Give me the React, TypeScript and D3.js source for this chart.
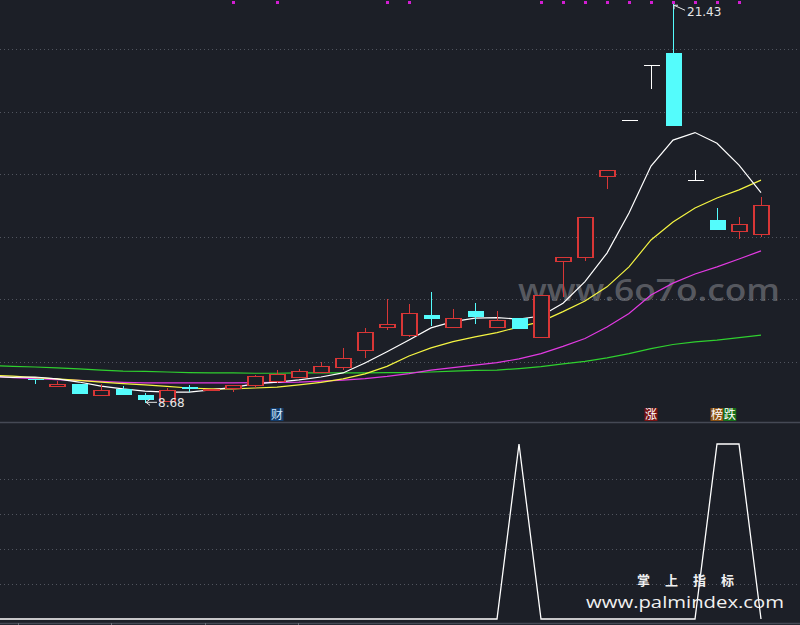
import { useEffect, useRef } from "react"
import * as d3 from "d3"

// candles, index 1..34
const candleIdx = d3.range(1, 35)
const opens = [9.47, 9.24, 9.29, 8.96, 9.15, 8.94, 8.76, 9.2, 9.13, 9.18, 9.25, 9.39, 9.53, 9.69, 9.83, 10.38, 11.12, 10.86, 11.5, 11.12, 11.63, 11.12, 11.4, 10.81, 13.22, 13.36, 15.93, 17.73, 19.48, 19.88, 15.81, 14.54, 14.19, 14.08]
const closes = [9.46, 9.3, 8.98, 9.11, 8.96, 8.8, 9.12, 9.19, 9.14, 9.25, 9.54, 9.62, 9.71, 9.87, 10.12, 10.95, 11.2, 11.56, 11.38, 11.4, 11.45, 11.34, 11.04, 12.14, 13.34, 14.64, 16.12, 17.73, 19.48, 17.55, 15.81, 14.22, 14.4, 15.02]
const highs = [9.47, 9.39, 9.29, 9.3, 9.23, 9.02, 9.18, 9.27, 9.14, 9.25, 9.59, 9.73, 9.78, 9.99, 10.44, 11.1, 12.01, 11.85, 12.25, 11.69, 11.88, 11.63, 11.4, 12.14, 13.34, 14.64, 16.12, 17.73, 19.48, 21.43, 16.13, 14.91, 14.63, 15.28]
const lows = [9.3, 9.24, 8.98, 8.96, 8.96, 8.68, 8.75, 9.04, 9.07, 9.03, 9.18, 9.34, 9.53, 9.69, 9.74, 10.14, 11.02, 10.81, 11.16, 11.12, 11.2, 11.12, 11.04, 10.81, 12.09, 13.22, 15.52, 17.73, 18.71, 17.55, 15.81, 14.22, 13.94, 14.0]

// moving averages, index -1..34
const maIdx = d3.range(-1, 35)
const ma5 = [9.53, 9.51, 9.52, 9.46, 9.36, 9.23, 9.14, 9.07, 9.04, 9.04, 9.11, 9.19, 9.3, 9.36, 9.43, 9.52, 9.65, 9.97, 10.33, 10.7, 11.09, 11.29, 11.4, 11.42, 11.37, 11.47, 11.88, 12.57, 13.48, 14.76, 16.26, 17.09, 17.33, 16.99, 16.29, 15.41]
const ma10 = [9.58, 9.55, 9.5, 9.46, 9.41, 9.36, 9.31, 9.27, 9.22, 9.17, 9.14, 9.14, 9.17, 9.2, 9.27, 9.35, 9.46, 9.62, 9.86, 10.19, 10.45, 10.65, 10.8, 10.94, 11.12, 11.29, 11.61, 11.95, 12.4, 13.04, 13.9, 14.47, 14.92, 15.24, 15.5, 15.81]
const ma20 = [9.55, 9.5, 9.47, 9.44, 9.41, 9.38, 9.35, 9.33, 9.33, 9.33, 9.33, 9.33, 9.34, 9.35, 9.36, 9.39, 9.42, 9.47, 9.54, 9.63, 9.74, 9.82, 9.9, 9.98, 10.1, 10.27, 10.5, 10.75, 11.12, 11.55, 12.14, 12.52, 12.81, 13.04, 13.29, 13.55]
const ma60 = [9.89, 9.86, 9.84, 9.81, 9.78, 9.74, 9.71, 9.7, 9.68, 9.66, 9.65, 9.65, 9.64, 9.64, 9.65, 9.65, 9.65, 9.65, 9.66, 9.66, 9.68, 9.71, 9.73, 9.74, 9.79, 9.85, 9.94, 10.02, 10.13, 10.27, 10.43, 10.56, 10.64, 10.7, 10.78, 10.86]

// lower panel signal, index -1..34
const signal = [0, 0, 0, 0, 0, 0, 0, 0, 0, 0, 0, 0, 0, 0, 0, 0, 0, 0, 0, 0, 0, 0, 0, 0, 1, 0, 0, 0, 0, 0, 0, 0, 0, 1, 1, 0]

const dotIdx = [10, 12, 17, 18, 24, 25, 26, 27, 28, 29, 30, 31, 32, 33]
const priceTicks = [10, 12, 14, 16, 18, 20]
const signalTicks = [0.2, 0.4, 0.6, 0.8]
const axisTickIdx = [0.23, 4.45, 8.73, 12.95]

const tags = [
  { i: 12, text: "财", bg: "#123c6c", fg: "#cfe6ff" },
  { i: 29, text: "涨", bg: "#7a1212", fg: "#ffffff" },
  { i: 32, text: "榜", bg: "#8c5212", fg: "#ffffff" },
  { i: 32.58, text: "跌", bg: "#16701a", fg: "#ffffff" },
]

const BG = "#1c1f27"
const RED = "#d83636"
const CYAN = "#54fcfc"

export default function App() {
  const svgRef = useRef<SVGSVGElement>(null)

  useEffect(() => {
    if (!svgRef.current) return
    const svg = d3.select(svgRef.current)
    svg.selectAll("*").remove()

    const width = 800
    const height = 625

    svg.append("rect").attr("width", width).attr("height", height).attr("fill", BG)

    const x = d3.scaleLinear().domain([0, 34]).range([13, 761])
    const y = d3.scaleLinear().domain([10, 20]).range([362, 49])
    const ys = d3.scaleLinear().domain([0, 1]).range([619, 444])

    svg.append("defs").append("clipPath").attr("id", "plotClip")
      .append("rect").attr("x", 0).attr("y", 0).attr("width", width).attr("height", 423)

    // grid lines
    svg.append("g")
      .selectAll("line")
      .data(priceTicks)
      .join("line")
      .attr("x1", 0)
      .attr("x2", width)
      .attr("y1", (d) => Math.round(y(d)) + 0.5)
      .attr("y2", (d) => Math.round(y(d)) + 0.5)
      .attr("stroke", "#51555f")
      .attr("stroke-dasharray", "1,3")

    svg.append("g")
      .selectAll("line")
      .data(signalTicks)
      .join("line")
      .attr("x1", 0)
      .attr("x2", width)
      .attr("y1", (d) => Math.round(ys(d)) + 0.5)
      .attr("y2", (d) => Math.round(ys(d)) + 0.5)
      .attr("stroke", "#51555f")
      .attr("stroke-dasharray", "1,3")

    // panel borders
    svg.append("line").attr("x1", 0).attr("x2", width).attr("y1", 422.5).attr("y2", 422.5)
      .attr("stroke", "#454955").attr("stroke-width", 1.5)
    svg.append("line").attr("x1", 0).attr("x2", width).attr("y1", 623.5).attr("y2", 623.5)
      .attr("stroke", "#454955").attr("stroke-width", 1.5)
    svg.append("g")
      .selectAll("line")
      .data(axisTickIdx)
      .join("line")
      .attr("x1", (d) => Math.round(x(d)) + 0.5)
      .attr("x2", (d) => Math.round(x(d)) + 0.5)
      .attr("y1", 623)
      .attr("y2", 625)
      .attr("stroke", "#6a6e78")

    // watermark behind lines
    svg.append("text")
      .attr("x", 780)
      .attr("y", 301)
      .attr("text-anchor", "end")
      .attr("fill", "#8a8c92")
      .attr("fill-opacity", 0.55)
      .style("font-family", "'Open Sans', 'DejaVu Sans', sans-serif")
      .style("font-size", "30px")
      .style("font-weight", "600")
      .attr("textLength", 262)
      .attr("lengthAdjust", "spacingAndGlyphs")
      .text("www.6o7o.com")

    // moving averages
    const plot = svg.append("g").attr("clip-path", "url(#plotClip)")
    const maLine = d3
      .line<number>()
      .x((_, i) => x(maIdx[i]))
      .y((d) => y(d))

    const maSeries = [
      { values: ma60, color: "#2fd02f" },
      { values: ma20, color: "#e23ae2" },
      { values: ma10, color: "#f5f542" },
      { values: ma5, color: "#ffffff" },
    ]
    maSeries.forEach((s) => {
      plot.append("path")
        .datum(s.values)
        .attr("fill", "none")
        .attr("stroke", s.color)
        .attr("stroke-width", 1.2)
        .attr("d", maLine)
    })

    // candles
    const bodyW = 16
    const candles = candleIdx.map((idx, k) => ({
      idx,
      open: opens[k],
      close: closes[k],
      high: highs[k],
      low: lows[k],
    }))

    const cg = plot.append("g").attr("shape-rendering", "crispEdges")
    candles.forEach((c) => {
      const cx = Math.round(x(c.idx)) + 0.5
      const top = y(Math.max(c.open, c.close))
      const bot = y(Math.min(c.open, c.close))
      const color = c.close > c.open ? RED : c.close < c.open ? CYAN : "#ffffff"
      const g = cg.append("g")
      if (c.close > c.open) {
        g.append("line").attr("x1", cx).attr("x2", cx).attr("y1", y(c.high)).attr("y2", top).attr("stroke", color)
        g.append("line").attr("x1", cx).attr("x2", cx).attr("y1", bot).attr("y2", y(c.low)).attr("stroke", color)
        g.append("rect")
          .attr("x", cx - bodyW / 2 + 0.5)
          .attr("y", Math.round(top) + 0.5)
          .attr("width", bodyW - 1)
          .attr("height", Math.max(1, Math.round(bot) - Math.round(top)))
          .attr("fill", BG)
          .attr("stroke", color)
          .attr("stroke-width", 1.3)
      } else if (c.close < c.open) {
        g.append("line").attr("x1", cx).attr("x2", cx).attr("y1", y(c.high)).attr("y2", y(c.low)).attr("stroke", color)
        g.append("rect")
          .attr("x", cx - bodyW / 2)
          .attr("y", top)
          .attr("width", bodyW)
          .attr("height", Math.max(1.5, bot - top))
          .attr("fill", color)
      } else {
        g.append("line").attr("x1", cx).attr("x2", cx).attr("y1", y(c.high)).attr("y2", y(c.low)).attr("stroke", color)
        g.append("line")
          .attr("x1", cx - bodyW / 2)
          .attr("x2", cx + bodyW / 2)
          .attr("y1", Math.round(top) + 0.5)
          .attr("y2", Math.round(top) + 0.5)
          .attr("stroke", color)
      }
    })

    // signal dots on top
    svg.append("g")
      .selectAll("rect")
      .data(dotIdx)
      .join("rect")
      .attr("x", (d) => Math.round(x(d)) - 1)
      .attr("y", 1)
      .attr("width", 3)
      .attr("height", 3)
      .attr("fill", "#d21ed2")

    // high / low annotations
    const hiK = d3.maxIndex(highs)
    const loK = d3.minIndex(lows)
    const hx = x(candleIdx[hiK])
    const hy = y(highs[hiK])
    svg.append("path")
      .attr("d", `M${hx + 1},${hy + 1} L${hx + 12},${hy + 6} M${hx + 1},${hy + 1} l4,0 M${hx + 1},${hy + 1} l0,4`)
      .attr("stroke", "#e6e6e6")
      .attr("fill", "none")
    svg.append("text")
      .attr("x", hx + 14)
      .attr("y", hy + 12)
      .attr("fill", "#e6e6e6")
      .style("font-family", "'DejaVu Sans', sans-serif")
      .style("font-size", "12px")
      .text(highs[hiK].toFixed(2))

    const lx = x(candleIdx[loK])
    const ly = y(lows[loK])
    svg.append("path")
      .attr("d", `M${lx + 1},${ly - 1} L${lx + 12},${ly - 1} M${lx + 1},${ly - 1} l4,-3 M${lx + 1},${ly - 1} l4,3`)
      .attr("stroke", "#e6e6e6")
      .attr("fill", "none")
    svg.append("text")
      .attr("x", lx + 13)
      .attr("y", ly + 4)
      .attr("fill", "#e6e6e6")
      .style("font-family", "'DejaVu Sans', sans-serif")
      .style("font-size", "12px")
      .text(lows[loK].toFixed(2))

    // tag boxes
    const tg = svg.append("g")
    tags.forEach((t) => {
      const tx = x(t.i)
      tg.append("rect")
        .attr("x", tx - 6.5)
        .attr("y", 408)
        .attr("width", 13)
        .attr("height", 13)
        .attr("fill", t.bg)
      tg.append("text")
        .attr("x", tx)
        .attr("y", 419)
        .attr("text-anchor", "middle")
        .attr("fill", t.fg)
        .style("font-family", "'Noto Sans CJK SC', sans-serif")
        .style("font-size", "12px")
        .text(t.text)
    })

    // lower panel signal line
    const sigLine = d3
      .line<number>()
      .x((_, i) => x(maIdx[i]))
      .y((d) => ys(d))
    svg.append("path")
      .datum(signal)
      .attr("fill", "none")
      .attr("stroke", "#ffffff")
      .attr("stroke-width", 1.3)
      .attr("d", sigLine)

    // bottom watermark
    svg.append("text")
      .attr("x", 637)
      .attr("y", 585)
      .attr("fill", "#f0f0f0")
      .style("font-family", "'Noto Sans CJK SC', sans-serif")
      .style("font-size", "13px")
      .style("font-weight", "700")
      .attr("textLength", 97)
      .text("掌 上 指 标")
    svg.append("text")
      .attr("x", 586)
      .attr("y", 608)
      .attr("fill", "#f0f0f0")
      .style("font-family", "'Open Sans', 'DejaVu Sans', sans-serif")
      .style("font-size", "16px")
      .attr("textLength", 198)
      .attr("lengthAdjust", "spacingAndGlyphs")
      .text("www.palmindex.com")
  }, [])

  return (
    <svg
      ref={svgRef}
      width={800}
      height={625}
      style={{ position: "fixed", left: 0, top: 0, display: "block" }}
    />
  )
}
